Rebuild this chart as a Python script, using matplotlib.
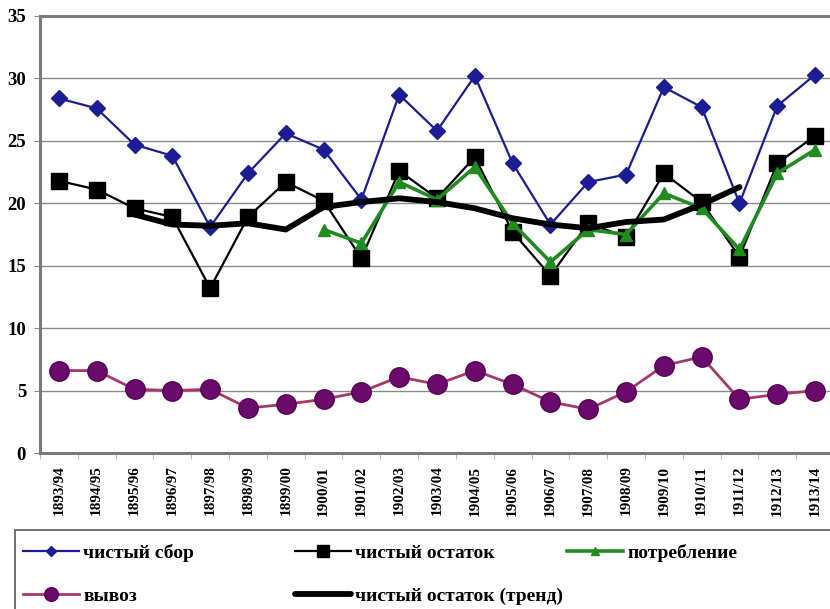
import matplotlib
matplotlib.use('Agg')
import matplotlib.pyplot as plt
from matplotlib.patches import Rectangle
import numpy as np

nan = np.nan

years = ['1893/94', '1894/95', '1895/96', '1896/97', '1897/98', '1898/99', '1899/00',
         '1900/01', '1901/02', '1902/03', '1903/04', '1904/05', '1905/06', '1906/07',
         '1907/08', '1908/09', '1909/10', '1910/11', '1911/12', '1912/13', '1913/14']

# чистый сбор
sbor = [28.4, 27.6, 24.7, 23.8, 18.1, 22.4, 25.6, 24.3, 20.3, 28.7, 25.8,
        30.2, 23.2, 18.3, 21.7, 22.3, 29.3, 27.7, 20.0, 27.8, 30.3]
# чистый остаток
ostatok = [21.8, 21.1, 19.6, 18.9, 13.2, 18.9, 21.7, 20.2, 15.6, 22.6, 20.4,
           23.7, 17.7, 14.2, 18.4, 17.3, 22.4, 20.1, 15.7, 23.2, 25.4]
# потребление
potreb = [nan, nan, nan, nan, nan, nan, nan, 17.9, 16.8, 21.7, 20.3,
          22.9, 18.4, 15.3, 17.9, 17.5, 20.8, 19.6, 16.3, 22.4, 24.3]
# чистый остаток (тренд)
trend = [nan, nan, 19.1, 18.3, 18.2, 18.4, 17.9, 19.7, 20.1, 20.4, 20.1,
         19.6, 18.8, 18.3, 18.0, 18.5, 18.7, 19.9, 21.3, nan, nan]
# вывоз
vyvoz = [6.6, 6.6, 5.1, 5.0, 5.1, 3.6, 3.9, 4.3, 4.9, 6.1, 5.5,
         6.6, 5.5, 4.1, 3.5, 4.9, 7.0, 7.7, 4.3, 4.7, 5.0]

plt.rcParams['font.family'] = 'Liberation Serif'
plt.rcParams['font.weight'] = 'bold'

W, H = 830, 609
fig = plt.figure(figsize=(W / 100, H / 100), dpi=100)
ax = fig.add_axes([40 / W, 1 - 453 / H, (834 - 40) / W, (453 - 16) / H])

x = np.arange(len(years))

l_sbor, = ax.plot(x, sbor, color='#1c1c94', lw=1.6, marker='D', ms=8,
                  mfc='#1c1c94', mec='#1c1c94', zorder=3, label='чистый сбор')
l_vyv, = ax.plot(x, vyvoz, color='#a8386a', lw=2.0, marker='o', ms=14,
                 mfc='#6a0a6a', mec='#5a005a', zorder=3, label='вывоз')
l_ost, = ax.plot(x, ostatok, color='black', lw=1.6, marker='s', ms=12,
                 mfc='black', mec='black', zorder=4, label='чистый остаток')
l_pot, = ax.plot(x, potreb, color='#1e8c1e', lw=2.6, marker='^', ms=9,
                 mfc='#1e8c1e', mec='#1e8c1e', zorder=5, label='потребление')
l_tr, = ax.plot(x, trend, color='black', lw=4.2, solid_capstyle='round',
                zorder=6, label='чистый остаток (тренд)')

ax.set_xlim(-0.5, 20.5)
ax.set_ylim(0, 35)
ax.set_yticks(range(0, 36, 5))
ax.yaxis.grid(True, color='#8a8a8a', lw=1)
ax.set_axisbelow(True)

ax.set_xticks(x)
ax.set_xticklabels(years, rotation=90, fontsize=11, fontweight='bold')
ax.set_xticks(np.arange(-0.5, 21, 1), minor=True)
ax.tick_params(axis='x', which='major', length=0, pad=9)
ax.tick_params(axis='x', which='minor', length=4, color='#aaaaaa', direction='out')
ax.tick_params(axis='y', length=4, color='#888888', labelsize=13.5, pad=6)

for side in ['left', 'top', 'bottom']:
    ax.spines[side].set_color('#7a7a7a')
    ax.spines[side].set_linewidth(2.2)
ax.spines['right'].set_visible(False)

# рамка легенды
fig.patches.append(Rectangle((15 / W, -0.05), 1.0, 0.05 + (609 - 530) / H,
                             transform=fig.transFigure, fill=False,
                             edgecolor='#707070', lw=1.4))

cols = [([l_sbor, l_vyv], 23), ([l_ost, l_tr], 295), ([l_pot], 567)]
for handles, left in cols:
    fig.legend(handles=handles, labels=[h.get_label() for h in handles],
               loc='upper left', bbox_to_anchor=(left / W, 1 - 544 / H),
               frameon=False, fontsize=14, handlelength=2.9, handletextpad=0.2,
               labelspacing=1.3, borderpad=0, borderaxespad=0, markerscale=0.7)

fig.savefig('out.png', dpi=100)
